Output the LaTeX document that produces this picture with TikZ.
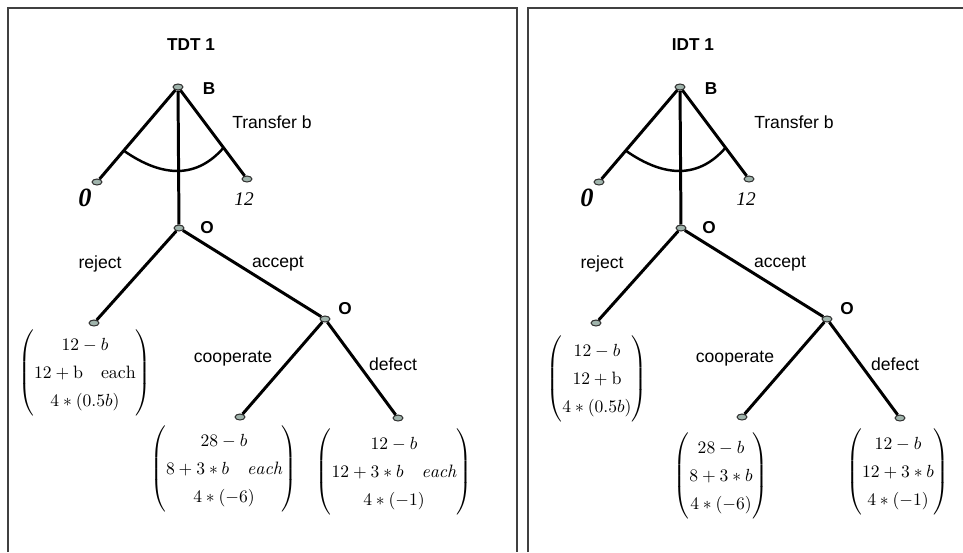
\documentclass[tikz,border=0pt]{standalone}
\usepackage{amsmath,amssymb}
\usepackage{fontspec}
\setsansfont{Liberation Sans}
\newfontfamily\leaffont{Liberation Serif}
\usetikzlibrary{shapes.geometric,calc}
\definecolor{dotfill}{RGB}{160,180,172}
\renewcommand{\arraystretch}{1.3}

\begin{document}
\begin{tikzpicture}[x=0.02cm,y=-0.02cm,
  dot/.style={ellipse,draw=black!80,fill=dotfill,line width=0.6pt,minimum width=5.6pt,minimum height=3.4pt,inner sep=0pt},
  branch/.style={line width=1.7pt},
  lab/.style={font=\sffamily\fontsize{10}{12}\selectfont},
  who/.style={font=\sffamily\bfseries\fontsize{9.8}{11}\selectfont},
  pay/.style={font=\fontsize{10.2}{12.2}\selectfont}]
\useasboundingbox (0,0) rectangle (963,552);
\draw[black!75,line width=0.9pt] (8,552)--(8,8)--(517,8)--(517,552);
\draw[black!75,line width=0.9pt] (528,552)--(528,8)--(963,8);

\foreach \p/\dx/\tx/\ttl in {t/0/272/TDT 1,i/502/292/IDT 1}{
\begin{scope}[shift={(\dx,0)}]
\node[who] (ttl\p) at (191,45) {\ttl};
\node[dot] (B\p) at (178,87) {};
\node[dot] (Z\p) at (97,182) {};
\node[dot] (T\p) at (247,179) {};
\node[dot] (O\p) at (179,228) {};
\node[dot] (R\p) at (94,323) {};
\node[dot] (A\p) at (325,319) {};
\node[dot] (C\p) at (240,417) {};
\node[dot] (D\p) at (398,418) {};
\draw[branch] (B\p)--(Z\p) (B\p)--(T\p) (B\p)--(O\p);
\draw[branch] (O\p)--(R\p) (O\p)--(A\p);
\draw[branch] (A\p)--(C\p) (A\p)--(D\p);
\coordinate (al\p) at ($(B\p)!0.67!(Z\p)$);
\coordinate (ar\p) at ($(B\p)!0.66!(T\p)$);
\draw[line width=1.4pt] (al\p) .. controls +(40,28) and +(-26,30) .. (ar\p);

\node[who] (Bl\p) at (209,89) {B};
\node[lab] (tr\p) at (\tx,122) {Transfer b};
\node[font=\leaffont\itshape\bfseries\fontsize{15}{18}\selectfont] (zl\p) at (85,198) {0};
\node[font=\leaffont\itshape\fontsize{11}{13}\selectfont] (tl\p) at (244,199) {12};
\node[who] (Ol\p) at (207,228) {O};
\node[lab] (rj\p) at (100,264) {reject};
\node[lab] (ac\p) at (278,264) {accept};
\node[who] (Al\p) at (345,309) {O};
\node[lab] (co\p) at (233,359) {cooperate};
\node[lab] (de\p) at (393,364) {defect};
\end{scope}}

\node[pay] (Rpt) at (85,373) {$\begin{pmatrix}12-b\\ 12+\mathrm{b}\quad \mathrm{each}\\ 4*(0.5b)\end{pmatrix}$};
\node[pay] (Cpt) at (224,469) {$\begin{pmatrix}28-b\\ 8+3*b\quad \mathit{each}\\ 4*(-6)\end{pmatrix}$};
\node[pay] (Dpt) at (394,472) {$\begin{pmatrix}12-b\\ 12+3*b\quad \mathit{each}\\ 4*(-1)\end{pmatrix}$};

\node[pay] (Rpi) at (597,379) {$\begin{pmatrix}12-b\\ 12+\mathrm{b}\\ 4*(0.5b)\end{pmatrix}$};
\node[pay] (Cpi) at (721,476) {$\begin{pmatrix}28-b\\ 8+3*b\\ 4*(-6)\end{pmatrix}$};
\node[pay] (Dpi) at (898,472) {$\begin{pmatrix}12-b\\ 12+3*b\\ 4*(-1)\end{pmatrix}$};
\end{tikzpicture}
\end{document}
